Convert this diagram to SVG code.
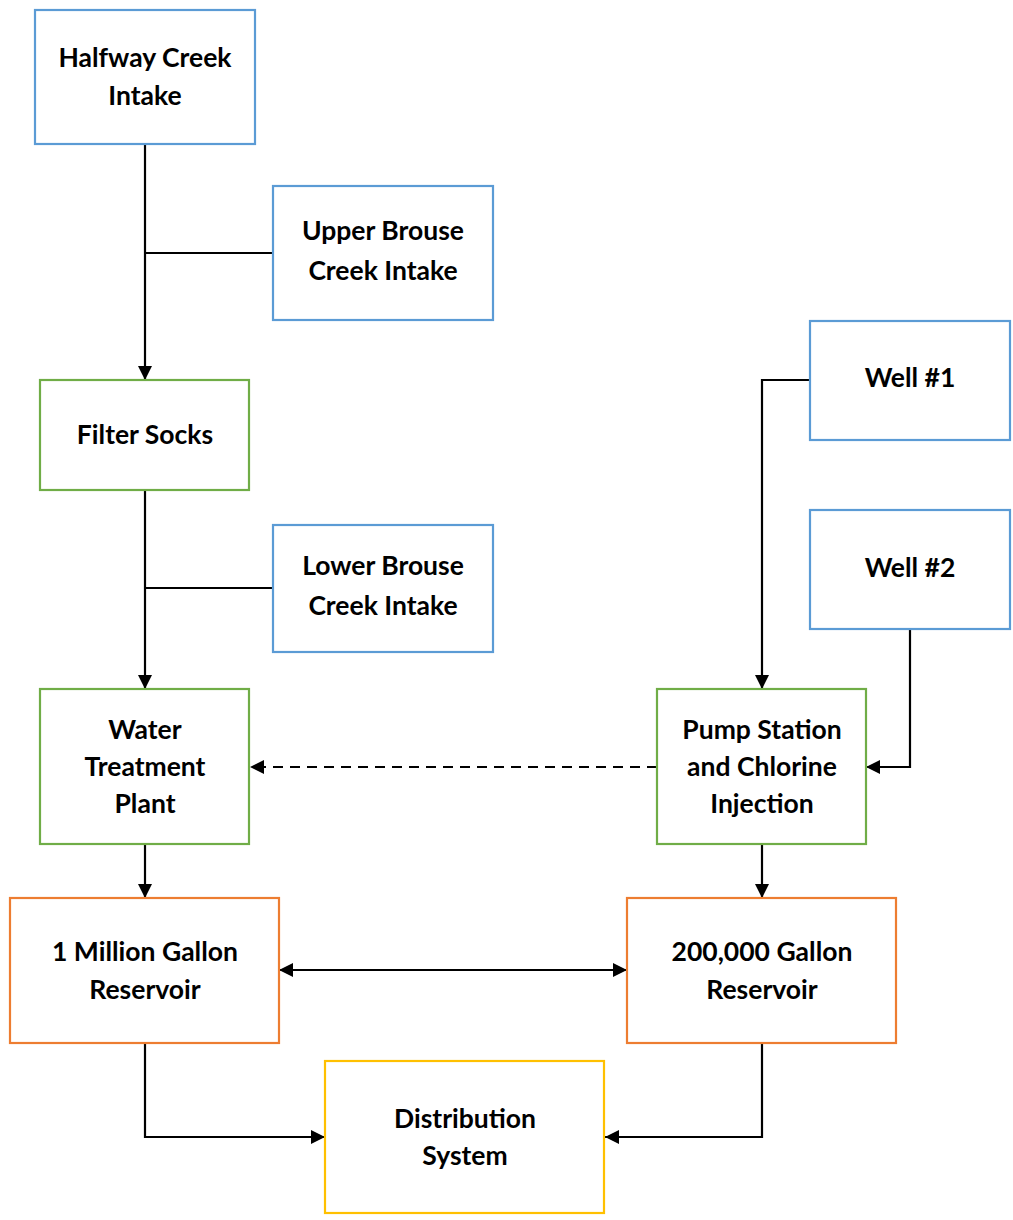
<svg xmlns="http://www.w3.org/2000/svg" width="1013" height="1220" viewBox="0 0 1013 1220">
<style>
.box{fill:#fff;stroke-width:2.2}
.blue{stroke:#5B9BD5}
.green{stroke:#70AD47}
.orange{stroke:#ED7D31}
.yellow{stroke:#FFC000}
text{font-family:Lato,"Open Sans","Liberation Sans",sans-serif;font-weight:bold;font-size:26.5px;fill:#000;text-anchor:middle}
.ln{fill:none;stroke:#000;stroke-width:2.2}
.arr{marker-end:url(#ah)}
</style>
<defs>
<marker id="ah" markerWidth="14" markerHeight="14" refX="14" refY="7" orient="auto-start-reverse" markerUnits="userSpaceOnUse">
<path d="M0,0 L14,7 L0,14 Z" fill="#000"/>
</marker>
</defs>
<rect width="1013" height="1220" fill="#fff"/>
<g id="connectors">
<path class="ln arr" d="M145,144 V380"/>
<path class="ln" d="M273,253 H145"/>
<path class="ln arr" d="M145,490 V689"/>
<path class="ln" d="M273,588 H145"/>
<path class="ln arr" d="M657,767 H250" stroke-dasharray="10,7"/>
<path class="ln arr" d="M810,380 H762 V689"/>
<path class="ln arr" d="M910,629 V767 H866"/>
<path class="ln arr" d="M145,844 V898"/>
<path class="ln arr" d="M762,844 V898"/>
<path class="ln arr" d="M279,970 H627" marker-start="url(#ah)"/>
<path class="ln arr" d="M145,1043 V1137 H325"/>
<path class="ln arr" d="M762,1043 V1137 H605"/>
</g>
<g id="halfway">
<rect class="box blue" x="35" y="10" width="220" height="134"/>
<text x="145" y="67">Halfway Creek</text>
<text x="145" y="105">Intake</text>
</g>
<g id="upper">
<rect class="box blue" x="273" y="186" width="220" height="134"/>
<text x="383" y="240">Upper Brouse</text>
<text x="383" y="280">Creek Intake</text>
</g>
<g id="filter">
<rect class="box green" x="40" y="380" width="209" height="110"/>
<text x="145" y="444">Filter Socks</text>
</g>
<g id="lower">
<rect class="box blue" x="273" y="525" width="220" height="127"/>
<text x="383" y="575">Lower Brouse</text>
<text x="383" y="615">Creek Intake</text>
</g>
<g id="wtp">
<rect class="box green" x="40" y="689" width="209" height="155"/>
<text x="145" y="739">Water</text>
<text x="145" y="776">Treatment</text>
<text x="145" y="813">Plant</text>
</g>
<g id="well1">
<rect class="box blue" x="810" y="321" width="200" height="119"/>
<text x="910" y="387">Well #1</text>
</g>
<g id="well2">
<rect class="box blue" x="810" y="510" width="200" height="119"/>
<text x="910" y="577">Well #2</text>
</g>
<g id="pump">
<rect class="box green" x="657" y="689" width="209" height="155"/>
<text x="762" y="739">Pump Station</text>
<text x="762" y="776">and Chlorine</text>
<text x="762" y="813">Injection</text>
</g>
<g id="res1m">
<rect class="box orange" x="10" y="898" width="269" height="145"/>
<text x="145" y="961">1 Million Gallon</text>
<text x="145" y="999">Reservoir</text>
</g>
<g id="res200k">
<rect class="box orange" x="627" y="898" width="269" height="145"/>
<text x="762" y="961">200,000 Gallon</text>
<text x="762" y="999">Reservoir</text>
</g>
<g id="dist">
<rect class="box yellow" x="325" y="1061" width="279" height="152"/>
<text x="465" y="1128">Distribution</text>
<text x="465" y="1165">System</text>
</g>
</svg>
